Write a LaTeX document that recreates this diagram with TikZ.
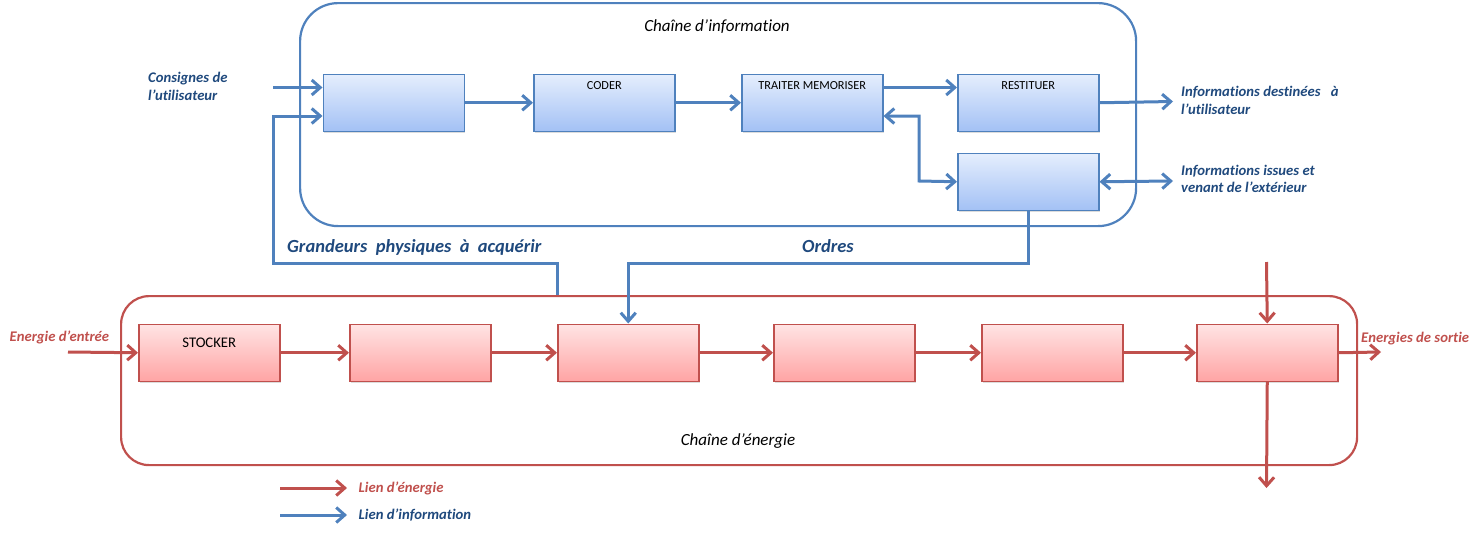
\documentclass[tikz,border=0pt]{standalone}
\usepackage{fontspec}
\setmainfont{Carlito}[Ligatures={NoCommon}]
\usetikzlibrary{arrows.meta,shadows}
\definecolor{infoline}{RGB}{79,129,189}
\definecolor{infotext}{RGB}{31,73,125}
\definecolor{enline}{RGB}{192,80,77}
\definecolor{ibtop}{RGB}{229,238,253}
\definecolor{ibbot}{RGB}{163,193,245}
\definecolor{ebtop}{RGB}{255,228,228}
\definecolor{ebbot}{RGB}{255,164,164}
\tikzset{
  frameline/.style={line width=2.2pt, rounded corners=#1, minimum width=0pt, inner sep=0pt, anchor=north west},
  blockbase/.style={line width=1.5pt, minimum width=141pt, minimum height=57pt, inner sep=0pt, anchor=north west,
    drop shadow={shadow xshift=1.2pt, shadow yshift=-1.6pt, opacity=0.28}},
  ibox/.style={blockbase, draw=infoline, top color=ibtop, bottom color=ibbot},
  ebox/.style={blockbase, draw=enline, top color=ebtop, bottom color=ebbot},
  ilink/.style={draw=infoline, line width=3pt, ->},
  ilinkb/.style={draw=infoline, line width=3pt, <->},
  elink/.style={draw=enline, line width=3pt, ->},
  itxt/.style={text=infotext, font=\fontsize{14.7}{17.5}\selectfont\bfseries\itshape, inner sep=0pt, align=left},
  etxt/.style={text=enline, font=\fontsize{14.7}{16}\selectfont\bfseries\itshape, inner sep=0pt},
  ttl/.style={font=\fontsize{17}{17}\selectfont\itshape, inner sep=0pt, anchor=base},
  big/.style={text=infotext, font=\fontsize{18.5}{22}\selectfont\bfseries\itshape, inner sep=0pt, anchor=base},
}
\begin{document}
\begin{tikzpicture}[x=1pt,y=-1pt, >={Straight Barb[length=8.5pt,width=15pt]}]
\useasboundingbox (0,0) rectangle (1479,533);

% frames of the two chains
\node[frameline=38pt, draw=infoline, minimum width=836pt, minimum height=223pt] (ich) at (299,2) {};
\node[frameline=28pt, draw=enline, minimum width=1236pt, minimum height=169pt] (ech) at (120,295) {};
\node[ttl] (ichname) at (717,31.5) {Chaîne d’information};
\node[ttl] (echname) at (738,445) {Chaîne d’énergie};

% free ends
\coordinate (cin) at (273,87.5);
\coordinate (gpup) at (273,116);
\coordinate (gpbus) at (273,263);
\coordinate (iout) at (1173,101.5);
\coordinate (iext) at (1173,181);
\coordinate (ein) at (68,352);
\coordinate (eout) at (1381,352);
\coordinate (etop) at (1266.5,262);
\coordinate (ebot) at (1266.5,488);
\coordinate (lr1) at (280,488);
\coordinate (lr2) at (347,488);
\coordinate (lb1) at (280,515);
\coordinate (lb2) at (347,515);

% information blocks
\node[ibox] (acq) at (322.5,73.5) {};
\node[ibox, label={[font=\fontsize{12.3}{12}\selectfont, anchor=base, yshift=-15.5pt]north:CODER}] (cod) at (533,73.5) {};
\node[ibox, label={[font=\fontsize{12.3}{12}\selectfont, anchor=base, yshift=-15.5pt]north:TRAITER MEMORISER}] (trt) at (741,73.5) {};
\node[ibox, label={[font=\fontsize{12.3}{12}\selectfont, anchor=base, yshift=-15.5pt]north:RESTITUER}] (rst) at (957,73.5) {};
\node[ibox] (com) at (957,152.5) {};

% energy blocks
\node[ebox, label={[font=\fontsize{14.7}{14.7}\selectfont, anchor=base, yshift=-23.5pt]north:STOCKER}] (e1) at (138,323.5) {};
\node[ebox] (e2) at (349,323.5) {};
\node[ebox] (e3) at (557,323.5) {};
\node[ebox] (e4) at (773,323.5) {};
\node[ebox] (e5) at (981,323.5) {};
\node[ebox] (e6) at (1196,323.5) {};

% information links
\draw[ilink] (cin) -- (cin -| acq.west);
\draw[ilink] (ech.north -| 557,0) |- (gpbus) -- (gpup) -- (gpup -| acq.west);
\draw[ilink] (acq.east) -- (cod.west);
\draw[ilink] (cod.east) -- (trt.west);
\draw[ilink] (trt.east |- 0,87.5) -- (rst.west |- 0,87.5);
\draw[ilink] (rst.east) -- (iout);
\draw[ilinkb] (trt.east |- 0,116) -- (919,116) -- (919,181) -- (com.west);
\draw[ilinkb] (com.east) -- (iext);
\draw[ilink] (com.south) |- (e3.north |- gpbus) -- (e3.north);

% energy links
\draw[elink] (ein) -- (e1.west);
\draw[elink] (e1.east) -- (e2.west);
\draw[elink] (e2.east) -- (e3.west);
\draw[elink] (e3.east) -- (e4.west);
\draw[elink] (e4.east) -- (e5.west);
\draw[elink] (e5.east) -- (e6.west);
\draw[elink] (e6.east) -- (eout);
\draw[elink] (etop) -- (e6.north);
\draw[elink] (e6.south) -- (ebot);

% side labels
\node[itxt, anchor=north west] (tcons) at (148,72) {Consignes de\\l’utilisateur};
\node[itxt, anchor=north west] (tdest) at (1181,86) {Informations destinées\hspace{7pt} à\\l’utilisateur};
\node[itxt, anchor=north west] (tissu) at (1181,164.5) {Informations issues et\\venant de l’extérieur};
\node[big, anchor=base west] (tgp) at (287,252) {Grandeurs~ physiques~ à~ acquérir};
\node[big] (tord) at (828,252) {Ordres};
\node[etxt, anchor=base west] (tein) at (9.5,341) {Energie d’entrée};
\node[etxt, anchor=base west] (teout) at (1361,342.5) {Energies de sortie};

% legend
\draw[elink] (lr1) -- (lr2);
\draw[ilink] (lb1) -- (lb2);
\node[etxt, anchor=base west] (tle) at (358.5,492.5) {Lien d’énergie};
\node[etxt, text=infotext, anchor=base west] (tli) at (358.5,519.5) {Lien d’information};
\end{tikzpicture}
\end{document}
